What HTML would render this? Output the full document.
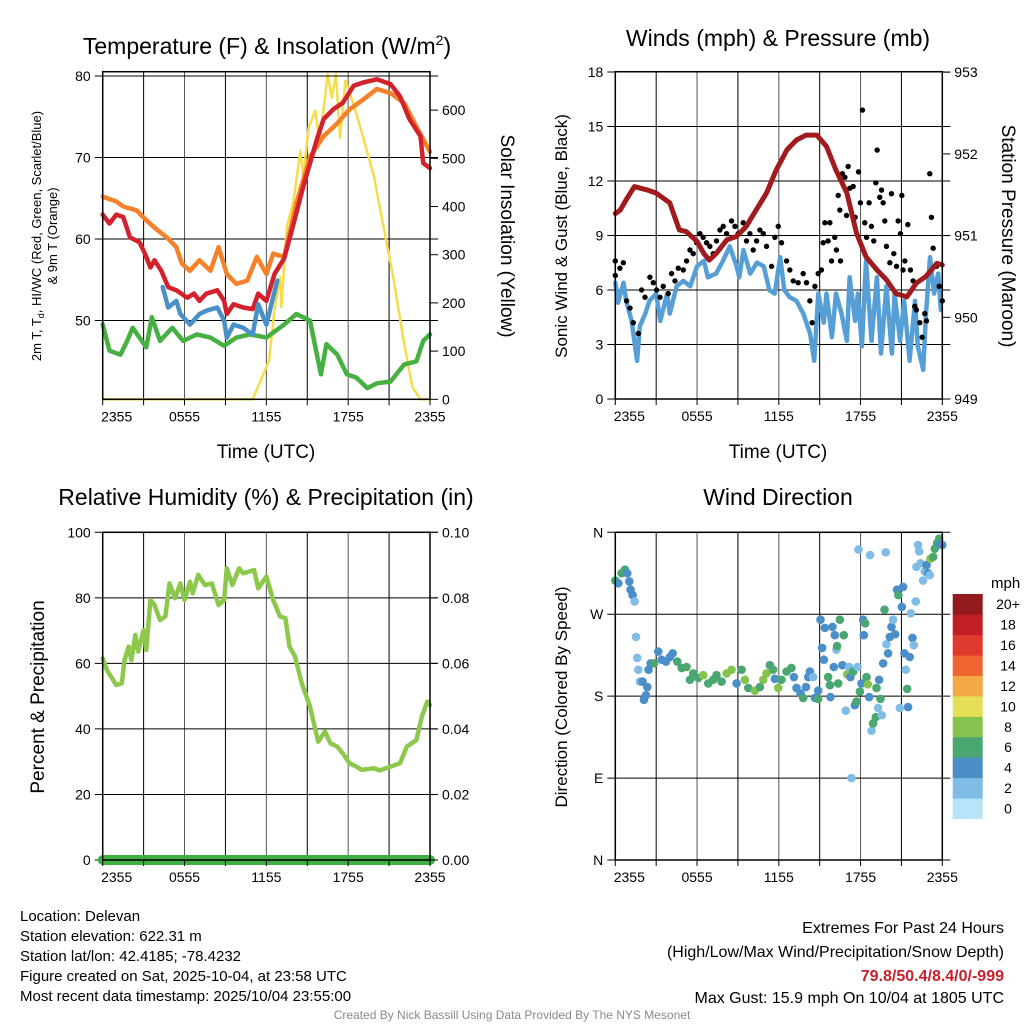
<!DOCTYPE html>
<html><head><meta charset="utf-8"><style>
html,body{margin:0;padding:0;background:#fff;}
svg{display:block;font-family:"Liberation Sans",Arial,sans-serif;}
</style></head><body>
<svg id="chart" width="1024" height="1024" viewBox="0 0 1024 1024" xmlns="http://www.w3.org/2000/svg">
<rect width="1024" height="1024" fill="#fff"/>
<g id="grid"></g>
<g id="marks"></g>
<g id="axes"></g>
<g id="labels" fill="#000">
<text x="267" y="54" font-size="23" text-anchor="middle">Temperature (F) &amp; Insolation (W/m<tspan font-size="14" dy="-9">2</tspan><tspan dy="9">)</tspan></text>
<text x="778" y="46" font-size="23" text-anchor="middle">Winds (mph) &amp; Pressure (mb)</text>
<text x="266" y="505" font-size="23" text-anchor="middle">Relative Humidity (%) &amp; Precipitation (in)</text>
<text x="778" y="505" font-size="23" text-anchor="middle">Wind Direction</text>
<text x="266" y="458" font-size="19" text-anchor="middle">Time (UTC)</text>
<text x="778" y="458" font-size="19" text-anchor="middle">Time (UTC)</text>
<text transform="translate(41,236) rotate(-90)" font-size="13" text-anchor="middle">2m T, T<tspan font-size="9" dy="3">d</tspan><tspan dy="-3">, HI/WC (Red, Green, Scarlet/Blue)</tspan></text>
<text transform="translate(57,236) rotate(-90)" font-size="13" text-anchor="middle">&amp; 9m T (Orange)</text>
<text transform="translate(501,236) rotate(90)" font-size="19" text-anchor="middle">Solar Insolation (Yellow)</text>
<text transform="translate(567,236) rotate(-90)" font-size="17" text-anchor="middle">Sonic Wind &amp; Gust (Blue, Black)</text>
<text transform="translate(1002,236) rotate(90)" font-size="19" text-anchor="middle">Station Pressure (Maroon)</text>
<text transform="translate(44,697) rotate(-90)" font-size="19" text-anchor="middle">Percent &amp; Precipitation</text>
<text transform="translate(567,697) rotate(-90)" font-size="17" text-anchor="middle">Direction (Colored By Speed)</text>
<text x="991" y="588" font-size="15">mph</text>
<g font-size="15">
<text x="20" y="921">Location: Delevan</text>
<text x="20" y="941">Station elevation: 622.31 m</text>
<text x="20" y="961">Station lat/lon: 42.4185; -78.4232</text>
<text x="20" y="981">Figure created on Sat, 2025-10-04, at 23:58 UTC</text>
<text x="20" y="1001">Most recent data timestamp: 2025/10/04 23:55:00</text>
</g>
<g font-size="16" text-anchor="end">
<text x="1004" y="933">Extremes For Past 24 Hours</text>
<text x="1004" y="957">(High/Low/Max Wind/Precipitation/Snow Depth)</text>
<text x="1004" y="981" fill="#c8202a" font-weight="bold">79.8/50.4/8.4/0/-999</text>
<text x="1004" y="1003">Max Gust: 15.9 mph On 10/04 at 1805 UTC</text>
</g>
<text x="512" y="1019" font-size="12" fill="#8a8a8a" text-anchor="middle">Created By Nick Bassill Using Data Provided By The NYS Mesonet</text>
</g>
</svg>
<script>
// ---- data (hours since 2355 UTC, values) ----
const timeTicks = ["2355","0555","1155","1755","2355"];
const tempTicks = [50,60,70,80];
const solarTicks = [0,100,200,300,400,500,600];
const windTicks = [0,3,6,9,12,15,18];
const presTicks = [949,950,951,952,953];
const rhTicks = [0,20,40,60,80,100];
const precipVals = [0,0.02,0.04,0.06,0.08,0.1];
const precipTicks = ["0.00","0.02","0.04","0.06","0.08","0.10"];
const dirTicks = ["N","E","S","W","N"];
const cbLabels = ["0","2","4","6","8","10","12","14","16","18","20+"];
const cbColors = ["#b8e3f8","#7fbde6","#4a8fc7","#4aa772","#84c34d","#e5df58","#f4a947","#ee6531","#e0392d","#c01f26","#921a1c"];

const temp2mT = [[0,63],[0.5,61.9],[1,63],[1.5,62.7],[2,60.2],[2.7,59.6],[3.1,58.2],[3.5,56.5],[3.8,57.4],[4.3,56.1],[4.8,54.1],[5.4,53.7],[6.2,52.8],[6.7,53.3],[7.1,52.4],[7.6,53.3],[8.4,53.7],[8.9,52.4],[9.1,50.8],[9.6,52],[10.3,51.6],[11,51.4],[11.4,53.3],[12,52.4],[12.6,55.7],[13.3,57.6],[14,61.9],[14.7,66.4],[15.7,72.2],[16.2,74.7],[16.9,75.9],[17.6,76.7],[18.4,78.8],[19.1,79.2],[20.1,79.6],[21.1,79],[21.8,77.5],[22.5,74.7],[23.3,72.6],[23.5,69.3],[24,68.7]];
const temp9mT = [[0,65.2],[1,64.6],[1.5,64],[2.5,63.5],[3.2,62.3],[4,61.1],[4.7,60.2],[5.4,59],[5.8,57],[6.4,56.1],[7.1,57.4],[7.9,56.1],[8.5,59],[9.1,55.7],[9.8,54.5],[10.6,54.9],[11.3,57.8],[12,55.7],[12.5,58.2],[13.3,57.8],[14.2,64.4],[15.2,70.1],[16.2,72.6],[17.2,74.2],[18.1,75.9],[19.1,77.1],[20.1,78.4],[21.1,77.9],[22.1,76.7],[23,73.8],[24,70.7]];
const windChill = [[4.4,54.1],[4.8,51.6],[5.4,52.4],[5.7,50.8],[6.4,49.5],[7.1,50.8],[7.6,51.2],[8.4,51.6],[8.9,50],[9.1,47.9],[9.6,49.5],[10.3,49.1],[11,48.3],[11.4,52],[12,49.5],[12.8,54.9]];
const dewPoint = [[0,49.5],[0.5,46.3],[1.3,45.8],[1.8,47.5],[2.2,49.1],[2.7,47.9],[3.2,46.7],[3.6,50.4],[4.2,47.5],[5.1,49.1],[5.9,47.5],[6.9,48.3],[7.9,47.9],[8.9,46.9],[9.8,47.9],[10.8,48.3],[12,47.9],[13.3,49.5],[14.2,50.8],[15.2,50],[16,43.4],[16.4,47.1],[17.2,45.8],[17.9,43.4],[18.6,43],[19.4,41.7],[20.1,42.3],[21.1,42.5],[22.1,44.6],[23,45],[23.5,47.5],[24,48.3]];
const solar = [[0,0],[11,0],[11.7,47],[12.2,81],[12.6,185],[13,254],[13.1,192],[13.5,357],[14,412],[14.5,516],[14.7,461],[15.1,564],[15.6,599],[15.9,530],[16.5,674],[16.8,626],[17.1,674],[17.4,543],[17.8,661],[18.4,612],[19.1,543],[19.9,461],[20.6,357],[21.3,254],[22.1,116],[22.7,26],[23.3,0],[24,0]];

const pressure = [[0,951.27],[0.35,951.31],[0.8,951.44],[1.4,951.6],[2.3,951.56],[3,951.52],[4,951.4],[4.7,951.07],[5.2,951.05],[6,950.93],[6.5,950.78],[6.9,950.7],[7.4,950.78],[8.2,950.95],[8.9,950.99],[9.6,951.11],[10.4,951.33],[11.1,951.52],[11.8,951.8],[12.6,952.05],[13.3,952.17],[14,952.23],[14.8,952.23],[15.5,952.09],[16.2,951.8],[17,951.52],[17.7,951.03],[18.4,950.74],[19.2,950.58],[19.9,950.46],[20.6,950.29],[21.4,950.25],[22.1,950.42],[22.8,950.5],[23.6,950.66],[24,950.64]];
const windSpeed = [[0,6.4],[0.2,5.3],[0.6,6.4],[0.8,5.4],[1.2,4.3],[1.6,2.1],[1.8,4],[2.2,4.7],[2.5,5.4],[3,5.8],[3.3,4.3],[3.8,5.8],[4,4.7],[4.5,6.2],[5,6.5],[5.5,6.2],[6,7.3],[6.5,7.6],[6.8,6.7],[7.4,6.9],[7.9,7.6],[8.4,8.4],[8.9,7.3],[9.1,6.7],[9.4,8.2],[9.9,6.9],[10.4,7.5],[10.9,7.3],[11.3,6],[11.7,5.8],[12.1,7.8],[12.4,6],[12.8,5.6],[13.3,5.4],[13.8,4.7],[14.3,3.6],[14.6,2.1],[14.9,5.8],[15.3,4.2],[15.5,5.8],[15.9,3.4],[16.2,5.8],[16.6,4.7],[17,3.2],[17.2,6.7],[17.6,4.3],[17.8,5.8],[18.1,2.9],[18.4,7.6],[18.8,3.2],[19.2,6.7],[19.5,2.5],[19.9,6.2],[20.3,2.5],[20.5,5.8],[20.9,3.2],[21.2,5.4],[21.6,2.1],[22,5.4],[22.2,2.9],[22.6,1.6],[22.8,4.7],[23.1,7.8],[23.4,5.8],[23.7,6.9],[23.9,4.9]];
const gusts = [[0,7.6],[0,6.8],[0.34,7.2],[0.59,7.5],[0.83,5.4],[1.08,5],[1.32,4.2],[1.69,3.6],[1.93,6],[2.18,5.6],[2.54,6.7],[2.79,6.4],[3.03,6],[3.28,5.6],[3.52,6.2],[3.89,5.8],[4.13,6.9],[4.38,6.5],[4.62,7.2],[4.99,7.1],[5.23,7.6],[5.48,8.2],[5.72,8],[5.97,8.6],[6.21,9.1],[6.45,8.9],[6.7,8.6],[6.94,8.4],[7.19,8],[7.43,8.7],[7.68,9.3],[7.92,9.5],[8.17,9.1],[8.53,9.8],[8.78,9.5],[9.02,9.1],[9.39,9.7],[9.63,8.7],[9.88,9.1],[10.12,8.2],[10.37,8.7],[10.61,9.3],[10.86,9.1],[11.1,8.4],[11.47,7.3],[11.71,8.9],[11.96,9.5],[12.2,8.6],[12.57,7.6],[12.81,7.1],[13.06,6.5],[13.42,6.4],[13.79,6.9],[14.03,6.4],[14.28,5.4],[14.45,4.2],[14.65,6.2],[14.89,6.9],[15.13,7.1],[15.26,8.6],[15.38,9.7],[15.62,8.7],[15.75,9.7],[15.87,7.6],[16.11,8.9],[16.23,8.2],[16.36,11.2],[16.48,10.4],[16.53,7.6],[16.67,12.4],[16.85,12.2],[16.97,10.1],[17.09,12.8],[17.21,11.6],[17.46,11.7],[17.6,10],[17.85,12.5],[17.99,10.8],[18.14,15.9],[18.31,9.7],[18.44,8.9],[18.63,10.8],[18.8,9.5],[18.97,8.7],[19.12,11.9],[19.22,13.7],[19.41,11.1],[19.54,11.5],[19.66,10.8],[19.78,9.8],[19.9,8.4],[20.15,7.5],[20.27,11.3],[20.44,8],[20.64,7.3],[20.76,9.8],[20.93,9.1],[21.03,11.2],[21.12,7.1],[21.25,7.6],[21.47,9.6],[21.66,7.1],[21.86,6.5],[21.98,5.1],[22.1,4.9],[22.35,4.2],[22.52,3.4],[22.71,4.7],[22.84,4.3],[23.08,12.4],[23.2,10],[23.33,8.3],[23.57,7.3],[23.77,6.2],[24,5.4]];

const relHum = [[0,61.5],[0.3,58],[0.7,55.4],[1,53.4],[1.4,53.9],[1.6,61],[1.9,65.1],[2.1,61],[2.4,68.7],[2.6,63.6],[3,70.2],[3.2,64.1],[3.5,79.3],[3.8,77.8],[4.2,73.2],[4.6,74.3],[4.9,84.4],[5.3,79.9],[5.7,84.4],[6,79.3],[6.4,84.9],[6.6,81.4],[7,87],[7.5,83.9],[8,84.4],[8.5,77.8],[8.9,79.3],[9.1,89],[9.5,83.9],[10,89],[10.3,87.5],[11.1,88.5],[11.4,82.9],[12,86.5],[12.5,79.3],[13,74.3],[13.4,73.8],[13.7,65.1],[14.1,62.1],[14.6,53.9],[15.2,46.8],[15.8,36.1],[16.3,39.2],[16.7,35.6],[17.2,34.6],[17.7,32],[18.1,29.5],[18.6,28.5],[19,27.5],[19.9,28],[20.3,27.3],[21.1,28.5],[21.8,29.5],[22.3,34.6],[23,36.6],[23.4,43.7],[23.8,48.3],[24,47.3]];
const precip = [[0,0],[24,0]];

const dirObs = [[0,307,7],[0.22,304,5],[0.46,315,7],[0.71,319,7],[0.88,315,5],[1.03,306,5],[1.12,297,5],[1.27,291,5],[1.42,284,3],[1.52,245,3],[1.61,222,3],[1.69,209,3],[1.81,196,3],[2.0,196,5],[2.1,176,5],[2.25,181,5],[2.35,190,5],[2.44,209,5],[2.59,216,5],[2.84,216,7],[3.15,229,5],[3.4,220,5],[3.72,218,5],[4.01,223,5],[4.21,227,5],[4.55,218,7],[4.87,211,7],[5.23,212,7],[5.48,198,7],[5.72,205,7],[6.09,200,7],[6.45,203,9],[6.82,194,7],[7.19,198,7],[7.43,203,7],[7.8,196,7],[8.17,205,9],[8.53,209,9],[8.9,194,5],[9.27,209,7],[9.51,198,9],[9.76,189,7],[10.24,186,9],[10.61,190,7],[10.86,198,9],[11.1,205,9],[11.34,214,7],[11.59,209,7],[11.71,199,5],[11.96,189,9],[12.2,198,7],[12.57,207,7],[12.93,211,7],[13.11,201,5],[13.3,189,5],[13.59,183,5],[13.79,178,7],[13.99,190,5],[14.16,201,5],[14.28,207,5],[14.52,201,3],[14.65,178,5],[14.89,186,5],[14.89,177,7],[15.06,264,5],[15.18,233,5],[15.31,220,5],[15.38,255,5],[15.62,201,7],[15.75,192,7],[15.79,179,5],[15.94,256,5],[16.04,212,5],[16.11,247,5],[16.23,231,3],[16.28,235,7],[16.36,194,7],[16.48,264,7],[16.67,214,5],[16.77,247,7],[16.92,164,3],[17.02,204,9],[17.16,212,3],[17.26,201,5],[17.33,90,3],[17.46,207,7],[17.58,170,5],[17.7,174,7],[17.78,212,3],[17.85,341,3],[17.95,185,7],[18.07,194,5],[18.19,264,5],[18.24,247,5],[18.34,260,7],[18.44,201,7],[18.53,193,9],[18.63,179,5],[18.7,335,3],[18.8,142,3],[18.92,150,7],[19.12,157,7],[19.17,189,7],[19.29,167,3],[19.36,198,5],[19.46,177,7],[19.56,159,3],[19.66,216,5],[19.76,275,7],[19.85,338,3],[19.9,237,3],[20.02,227,5],[20.15,245,5],[20.27,256,5],[20.39,264,3],[20.54,248,5],[20.68,297,5],[20.78,291,7],[20.88,167,3],[21.03,278,5],[21.12,300,5],[21.22,227,5],[21.32,209,3],[21.42,188,7],[21.49,168,5],[21.61,223,5],[21.69,271,3],[21.81,244,5],[21.91,236,3],[22.05,284,3],[22.1,322,3],[22.22,346,3],[22.3,339,3],[22.4,326,3],[22.59,307,3],[22.71,317,3],[22.84,324,5],[22.96,315,5],[23.08,313,3],[23.13,331,9],[23.33,333,7],[23.45,342,7],[23.62,348,7],[23.77,353,7],[23.86,347,5],[24,346,5]];

// ---- scales ----
const NS='http://www.w3.org/2000/svg';
const P1={x0:102.7,x1:430,y0:71.7,y1:399.3};
const P2={x0:615.3,x1:942.3,y0:71.7,y1:399};
const P3={x0:102.7,x1:430,y0:532.3,y1:860};
const P4={x0:615.3,x1:942.3,y0:532.3,y1:860};
const xs=(p,h)=>p.x0+h*(p.x1-p.x0)/24;
const yTemp=v=>320.5-(v-50)*8.15;
const ySolar=v=>399.3-v*0.482;
const yWind=v=>399-v*18.17;
const yPres=v=>399-(v-949)*81.7;
const yRH=v=>860-v*3.277;
const yPrecip=v=>860-v*3277;
const yDir=d=>860-d*0.9103;

function el(tag,attrs,parent){const e=document.createElementNS(NS,tag);for(const k in attrs)e.setAttribute(k,attrs[k]);parent.appendChild(e);return e;}
const grid=document.getElementById('grid'),marks=document.getElementById('marks'),axes=document.getElementById('axes');

function panel(p,name){
  for(let i=0;i<=8;i++){const x=xs(p,i*3);
    const l=el('line',{x1:x,x2:x,y1:p.y0,y2:p.y1,stroke:i%2?'#000':'#555','stroke-width':1},grid);
    
    
    const t=el('line',{x1:x,x2:x,y1:p.y1,y2:p.y1+6,stroke:'#000','stroke-width':1},axes);
    
    }
  timeTicks.forEach((s,i)=>{const t=el('text',{x:xs(p,i*6)+(i==0?14:0),y:p.y1+22,'font-size':14,'text-anchor':'middle'},axes);t.textContent=s;
    
    });
  const f=el('rect',{x:p.x0,y:p.y0,width:p.x1-p.x0,height:p.y1-p.y0,fill:'none',stroke:'#000','stroke-width':1.5},axes);
  
  
}
function hgrid(p,name,ticks,yf,lab){
  ticks.forEach((v,i)=>{const y=yf(v);
    const l=el('line',{x1:p.x0-8,x2:p.x1+8,y1:y,y2:y,stroke:'#000','stroke-width':1},grid);
    
    
    const t=el('text',{x:p.x0-12,y:y+5,'font-size':14,'text-anchor':'end'},axes);t.textContent=lab?lab[i]:v;
    
    });
}
function rightTicks(p,name,ticks,yf,lab){
  ticks.forEach((v,i)=>{const y=yf(v);
    const l=el('line',{x1:p.x1,x2:p.x1+8,y1:y,y2:y,stroke:'#000','stroke-width':1},axes);
    
    
    const t=el('text',{x:p.x1+12,y:y+5,'font-size':14},axes);t.textContent=lab?lab[i]:v;
    
    });
}
function line(p,data,yf,color,w,name){
  const d=data.map((q,i)=>(i?'L':'M')+xs(p,q[0]).toFixed(1)+','+yf(q[1]).toFixed(1)).join('');
  const e=el('path',{d:d,fill:'none',stroke:color,'stroke-width':w,'stroke-linejoin':'round','stroke-linecap':'round','clip-path':'url(#'+name.split('-')[0]+'clip)'},marks);
  
  
}
const defs=el('defs',{},document.getElementById('chart'));
[['p1',P1],['p2',P2],['p3',P3],['p4',P4]].forEach(([n,p])=>{const c=el('clipPath',{id:n+'clip'},defs);el('rect',{x:p.x0-6,y:p.y0-2,width:p.x1-p.x0+12,height:p.y1-p.y0+8},c);});

// Panel 1
panel(P1,'temp');hgrid(P1,'temp',tempTicks,yTemp);rightTicks(P1,'solar',solarTicks,ySolar);
line(P1,solar,ySolar,'#f7dc4a',2.5,'p1-solar-line');
line(P1,dewPoint,yTemp,'#46b043',4.5,'p1-dewpoint-line');
line(P1,temp9mT,yTemp,'#f5822a',4.5,'p1-9m-temp-line');
line(P1,temp2mT,yTemp,'#d3222c',4.5,'p1-2m-temp-line');
line(P1,windChill,yTemp,'#4990c9',4.5,'p1-windchill-line');
// Panel 2
panel(P2,'wind');hgrid(P2,'wind',windTicks,yWind);rightTicks(P2,'pressure',presTicks,yPres);
line(P2,windSpeed,yWind,'#569fd6',4.5,'p2-wind-speed-line');
gusts.forEach(q=>{const c=el('circle',{cx:xs(P2,q[0]),cy:yWind(q[1]),r:2.7,fill:'#000'},marks);
  
  });
line(P2,pressure,yPres,'#a01a1e',5,'p2-pressure-line');
// Panel 3
panel(P3,'rh');hgrid(P3,'rh',rhTicks,yRH);rightTicks(P3,'precip',precipVals,yPrecip,precipTicks);
line(P3,relHum,yRH,'#8cc84b',4.5,'p3-rh-line');
line(P3,precip,yPrecip,'#3fae43',10,'p3-precip-line');
// Panel 4
panel(P4,'dir');hgrid(P4,'dir',[0,90,180,270,360],yDir,dirTicks);
function spdColor(s){let i=Math.min(10,Math.floor(s/2));return cbColors[i];}
dirObs.forEach(q=>{const c=el('circle',{cx:xs(P4,q[0]),cy:yDir(q[1]),r:4.3,fill:spdColor(q[2])},marks);
  
  });
// colorbar
const cbTop=594,cbH=20.43;
cbColors.forEach((c,i)=>{const y=cbTop+(10-i)*cbH;
  const r=el('rect',{x:952.7,y:y,width:30,height:cbH+0.3,fill:c},axes);
  
  
  const t=el('text',{x:1008,y:y+cbH/2+5,'font-size':14,'text-anchor':'middle'},axes);t.textContent=cbLabels[i];
  
  });
// extra top line in panel 1
const tl=el('line',{x1:P1.x0,x2:P1.x1,y1:yTemp(80),y2:yTemp(80),stroke:'#000','stroke-width':1},axes);


</script>
</body></html>
